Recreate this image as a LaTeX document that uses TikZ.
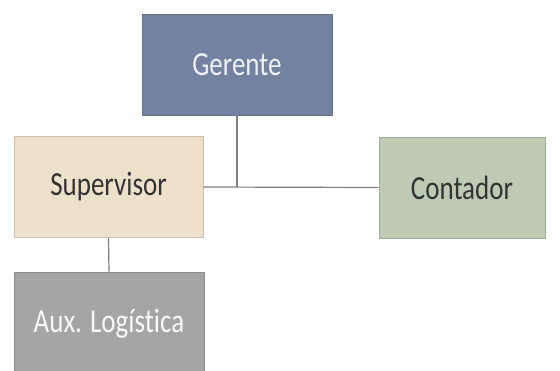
\documentclass[tikz,border=0pt]{standalone}
\usepackage{fontspec}
\setmainfont{Carlito}[Ligatures={NoCommon}]
\begin{document}
\begin{tikzpicture}[x=1pt,y=-1pt,
  box/.style={draw=#1!85!black, line width=0.6pt, fill=#1, minimum height=101pt, inner sep=0pt},
  lbl/.style={font=\fontsize{27}{30}\selectfont},
  link/.style={draw=linkgray, line width=1.2pt}]
  \definecolor{gerfill}{HTML}{7482A1}
  \definecolor{supfill}{HTML}{EDE1CC}
  \definecolor{auxfill}{HTML}{A5A5A5}
  \definecolor{confill}{HTML}{BECBB4}
  \definecolor{linkgray}{HTML}{7F7F7F}
  \useasboundingbox[fill=white] (0,0) rectangle (560,370);
  % organisation boxes
  \node[box=gerfill, minimum width=190pt, lbl, text=white!88!gerfill] (ger) at (237,64.5) {\scalebox{1}[1.25]{Gerente}};
  \node[box=supfill, minimum width=189pt, lbl, text=black!80] (sup) at (108.5,187) {\scalebox{1}[1.25]{Supervisor}};
  \node[box=confill, minimum width=166pt, lbl, text=black!80] (con) at (462,187.5) {\scalebox{1}[1.25]{Contador}};
  \node[box=auxfill, minimum width=190pt, minimum height=104pt, lbl, text=white!92!auxfill] (aux) at (109,324) {\scalebox{1}[1.25]{Aux. Logística}};
  % connectors
  \coordinate (j) at (ger.south |- sup.east);
  \draw[link] (ger.south) -- (j);
  \draw[link] (sup.east) -- (con.west);
  \draw[link] (sup.south) -- (aux.north);
\end{tikzpicture}
\end{document}
